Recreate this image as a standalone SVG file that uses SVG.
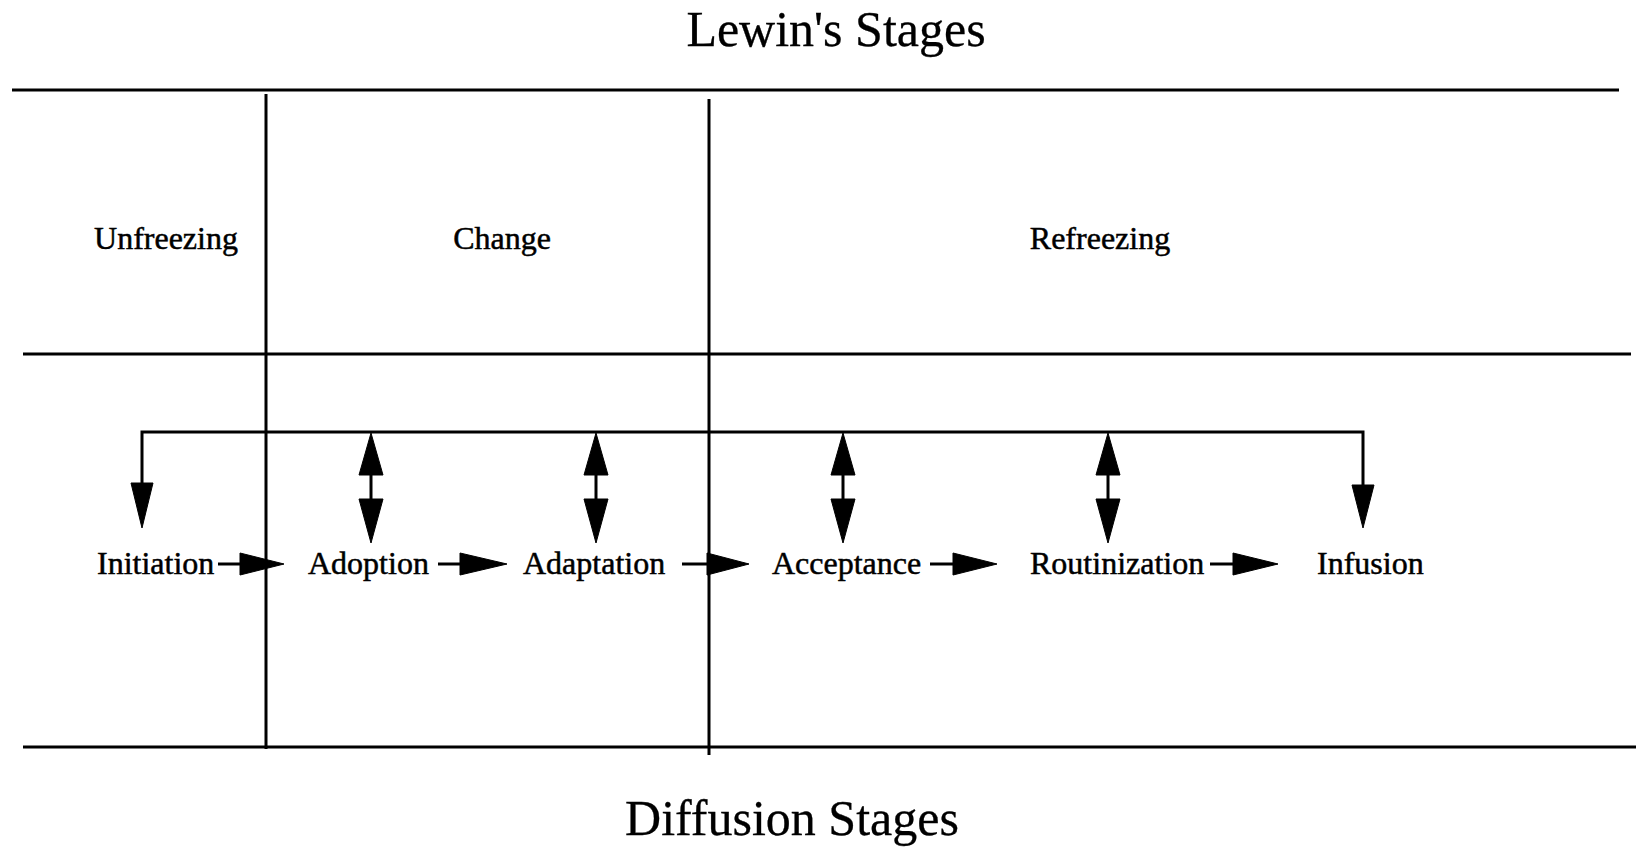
<svg xmlns="http://www.w3.org/2000/svg" width="1639" height="853" viewBox="0 0 1639 853">
<style>
  .t { font-family: "Liberation Serif", "Times New Roman", serif; fill: #000; stroke: #000; stroke-width: 0.5; }
  .title { font-size: 50px; stroke-width: 0.3; }
  .lbl { font-size: 32px; }
  .rule { stroke: #000; stroke-width: 3; fill: none; }
  .conn { stroke: #000; stroke-width: 3; fill: none; }
  .head { fill: #000; stroke: #000; stroke-width: 1; }
</style>
<rect width="1639" height="853" fill="#fff"/>

<g id="title-lewin"><text class="t title" x="836" y="46" text-anchor="middle">Lewin's Stages</text></g>
<g id="title-diffusion"><text class="t title" x="792" y="835" text-anchor="middle">Diffusion Stages</text></g>

<g id="grid">
  <line class="rule" x1="12" y1="90" x2="1619" y2="90"/>
  <line class="rule" x1="23" y1="354" x2="1631" y2="354"/>
  <line class="rule" x1="23" y1="747" x2="1636" y2="747"/>
  <line class="rule" x1="266" y1="94" x2="266" y2="749"/>
  <line class="rule" x1="709" y1="99" x2="709" y2="755"/>
</g>

<g id="unfreezing"><text class="t lbl" x="166" y="249" text-anchor="middle">Unfreezing</text></g>
<g id="change"><text class="t lbl" x="502" y="249" text-anchor="middle">Change</text></g>
<g id="refreezing"><text class="t lbl" x="1100" y="249" text-anchor="middle">Refreezing</text></g>

<g id="initiation"><text class="t lbl" x="97" y="574">Initiation</text></g>
<g id="adoption"><text class="t lbl" x="308" y="574">Adoption</text></g>
<g id="adaptation"><text class="t lbl" x="523" y="574">Adaptation</text></g>
<g id="acceptance"><text class="t lbl" x="772" y="574">Acceptance</text></g>
<g id="routinization"><text class="t lbl" x="1030" y="574">Routinization</text></g>
<g id="infusion"><text class="t lbl" x="1317" y="574">Infusion</text></g>

<g id="connectors">
  <!-- feedback bus -->
  <polyline class="conn" points="142,484 142,432 1363,432 1363,486"/>
  <polygon class="head" points="131,483 153,483 142,528"/>
  <polygon class="head" points="1352,485 1374,485 1363,528"/>
  <!-- double arrows -->
  <g id="dbl-adoption">
    <line class="conn" x1="371" y1="474" x2="371" y2="500"/>
    <polygon class="head" points="371,433 359,475 383,475"/>
    <polygon class="head" points="359,499 383,499 371,543"/>
  </g>
  <g id="dbl-adaptation">
    <line class="conn" x1="596" y1="474" x2="596" y2="500"/>
    <polygon class="head" points="596,433 584,475 608,475"/>
    <polygon class="head" points="584,499 608,499 596,543"/>
  </g>
  <g id="dbl-acceptance">
    <line class="conn" x1="843" y1="474" x2="843" y2="500"/>
    <polygon class="head" points="843,433 831,475 855,475"/>
    <polygon class="head" points="831,499 855,499 843,543"/>
  </g>
  <g id="dbl-routinization">
    <line class="conn" x1="1108" y1="474" x2="1108" y2="500"/>
    <polygon class="head" points="1108,433 1096,475 1120,475"/>
    <polygon class="head" points="1096,499 1120,499 1108,543"/>
  </g>
  <!-- sequence arrows -->
  <line class="conn" x1="218" y1="564" x2="242" y2="564"/>
  <polygon class="head" points="240,553 240,575 284,564"/>
  <line class="conn" x1="438" y1="564" x2="462" y2="564"/>
  <polygon class="head" points="460,553 460,575 507,564"/>
  <line class="conn" x1="682" y1="564" x2="709" y2="564"/>
  <polygon class="head" points="707,553 707,575 749,564"/>
  <line class="conn" x1="930" y1="564" x2="955" y2="564"/>
  <polygon class="head" points="953,553 953,575 997,564"/>
  <line class="conn" x1="1210" y1="564" x2="1235" y2="564"/>
  <polygon class="head" points="1233,553 1233,575 1278,564"/>
</g>
</svg>
